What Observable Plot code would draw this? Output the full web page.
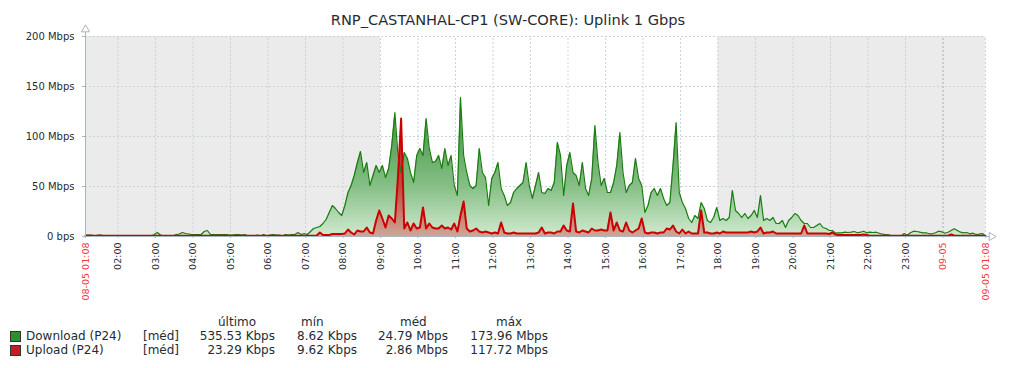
<!DOCTYPE html>
<html><head><meta charset="utf-8">
<script src="https://cdn.jsdelivr.net/npm/d3@7"></script>
<script src="https://cdn.jsdelivr.net/npm/@observablehq/plot@0.6"></script>
<style>
body{margin:0;background:#fff;font-family:"DejaVu Sans",sans-serif;color:#1f2c33;}
#wrap{position:relative;width:1016px;height:368px;overflow:hidden;}
#chart{position:absolute;left:0;top:0;}
#title{position:absolute;left:0;width:1016px;top:10.5px;text-align:center;font-size:14.6px;line-height:17px;white-space:nowrap;}
.lg{position:absolute;font-size:12px;line-height:14px;white-space:nowrap;}
.sw{position:absolute;width:9px;height:9px;border:1px solid #333;}
</style></head>
<body><div id="wrap">
<div id="chart"></div>
<div id="title"></div>
<div id="legend"></div>
</div>
<script>
// ---- data (Mbps), 5-minute samples from 08-05 01:08 to 09-05 01:08 ----
const title = "RNP_CASTANHAL-CP1 (SW-CORE): Uplink 1 Gbps";
const startTime = Date.UTC(2023, 4, 8, 1, 8);
const stepMinutes = 5;
const downloadMbps = [
1.5,1.5,1.5,0.5,1.5,1.5,0.5,0.5,0.5,0.5,0.5,0.5,
0.5,0.5,0.5,0.5,0.5,0.5,0.5,0.5,0.5,0.5,2,4,
1.5,0.5,0.5,0.5,0.5,2,2.5,4,3,2.5,2,2,
2,2,5,6,2,2,2,2,2,2,1.5,1.5,
2,2,1.5,2,0.5,0.5,0.5,1.5,0.5,2,0.5,1.5,
2,1.5,1.5,0.5,2,1.5,2,2,4,2,
3,2,5,8,9,10,13,17,
24,31,28,24,21,31,44,51,61,74,85,64,
74,51,61,71,64,71,59,68,91,124,81,64,
84,78,64,54,81,88,81,118,88,74,75,
81,68,88,71,81,51,41,139,81,64,51,48,
51,88,64,59,31,58,64,74,48,41,31,34,
44,48,51,54,74,51,38,51,64,44,43,48,
46,54,94,81,41,71,84,64,61,51,74,48,
41,58,111,74,51,58,44,44,54,71,104,64,
44,51,54,78,58,51,24,31,44,48,41,48,
38,31,34,71,114,44,34,28,18,14,21,18,
34,28,16,14,19,29,16,18,16,19,46,26,
23,19,23,18,21,26,19,41,16,18,16,19,
13,13,16,9,16,19,23,21,16,13,13,9,
9,11,13,9,8,6,6,3.3,3.7,3.7,4.3,4,
4.3,5,3.7,4.3,5.3,3.7,4.3,4,4.3,3.3,2.3,2,
1.7,0.7,0.5,0.5,0.5,3,1.3,3.7,5.3,5,4.3,3.7,
3.7,2.7,2.7,3.7,5.3,4.7,3.3,4.3,6,7.7,6,4.3,
3.7,4,2.7,3.3,2,2.3,3,0.5
];
const uploadMbps = [
0.8,0.8,0.8,0.8,0.8,0.8,0.8,0.8,0.8,0.8,0.8,0.8,
0.8,0.8,0.8,0.8,0.8,0.8,0.8,0.8,0.8,0.8,0.8,0.8,
0.8,0.8,0.8,0.8,0.8,0.8,0.8,0.8,0.8,0.8,0.8,0.8,
0.8,0.8,0.8,0.8,0.8,0.8,0.8,0.8,0.8,0.8,0.8,0.8,
0.8,0.8,0.8,0.8,0.8,0.8,0.8,0.8,0.8,0.8,0.8,0.8,
0.8,0.8,0.8,0.8,0.8,0.8,0.8,0.8,0.8,0.8,
0.8,0.8,0.8,0.8,1,4,1.5,1.5,
1.5,2.5,2.5,2.5,2.5,3,7,4,2,6,5,5,
9,4,3,16,26,18,9,21,18,14,60,118,
8,14,6,13,8,9,29,8,13,9,8,
8,11,8,9,7,13,5,21,35,8,5,6,
8,5,4,5,4,3,4,3,14,4,3,3,
4,3,3,3,3,3,3,3,4,9,3,4,
4,3,5,5,11,6,5,33,5,4,6,5,
4,8,6,6,7,6,6,24,6,14,6,5,
14,6,4,6,8,18,4,3,4,4,3,4,
4,8,7,11,5,3,7,3,5,3,3,3,
26,4,4,3,3,4,3,5,4,4,4,4,
4,4,4,4,5,4,5,9,3,4,4,5,
3,3,3,3,3,3,3,3,3,11,3,3,
3,3,3,3,3,2.5,4,2,1.5,1.5,1.5,1.5,
1.5,1.5,1.5,1.5,2,1.5,0.8,0.8,0.8,0.8,0.8,0.8,
0.8,0.8,0.8,0.8,0.8,0.8,0.8,0.8,0.8,0.8,0.8,0.8,
0.8,0.8,0.8,0.8,0.8,0.8,0.8,0.8,2,1,0.8,0.8,
0.8,0.8,0.8,0.8,0.8,0.8,0.8,0.5
];
const yTicks = [0, 50, 100, 150, 200];
const yTickLabels = ["0 bps", "50 Mbps", "100 Mbps", "150 Mbps", "200 Mbps"];
const hourLabels = ["02:00","03:00","04:00","05:00","06:00","07:00","08:00","09:00","10:00","11:00","12:00","13:00","14:00","15:00","16:00","17:00","18:00","19:00","20:00","21:00","22:00","23:00"];
const edgeLabels = ["08-05 01:08", "09-05", "09-05 01:08"];
const seriesNames = ["Download (P24)", "Upload (P24)"];
const legendHeaders = ["último", "mín", "méd", "máx"];
const legendFunc = "[méd]";
const downloadStats = ["535.53 Kbps", "8.62 Kbps", "24.79 Mbps", "173.96 Mbps"];
const uploadStats = ["23.29 Kbps", "9.62 Kbps", "2.86 Mbps", "117.72 Mbps"];
const workStart = "09:00", workEnd = "18:00";

// ---- build ----
const t0 = new Date(startTime);
const t1 = new Date(startTime + 24 * 3600e3);
const rows = downloadMbps.map((d, i) => ({t: new Date(startTime + i * stepMinutes * 60e3), down: d, up: uploadMbps[i]}));
const atHour = (label, day) => { const [h, m] = label.split(":").map(Number); return new Date(Date.UTC(2023, 4, day, h, m)); };
const hourTicks = hourLabels.map(l => atHour(l, 8));
const midnight = new Date(Date.UTC(2023, 4, 9, 0, 0));
const edgeTicks = [t0, midnight, t1];
const bands = [{a: t0, b: atHour(workStart, 8)}, {a: atHour(workEnd, 8), b: t1}];
const gridCol = "#c9d3d9", axisCol = "#a9b5bd", red = "#f03a3a";

const chart = Plot.plot({
  width: 1016, height: 310,
  marginLeft: 85, marginRight: 31, marginTop: 36, marginBottom: 74,
  x: {type: "utc", domain: [t0, t1]},
  y: {domain: [0, 200]},
  style: {fontFamily: "DejaVu Sans", fontSize: "10px", color: "#1f2c33", background: "transparent"},
  marks: [
    Plot.rect(bands, {x1: "a", x2: "b", y1: 0, y2: 200, fill: "#ebebeb"}),
    Plot.ruleY(yTicks.filter(v => v > 0), {x1: t0, x2: t1, stroke: gridCol, strokeDasharray: "2,2"}),
    Plot.ruleX(hourTicks, {y1: 0, y2: 200, stroke: gridCol, strokeDasharray: "2,2"}),
    Plot.ruleX([midnight], {y1: 0, y2: 200, stroke: "#9fb0bc", strokeDasharray: "2,2"}),
    Plot.ruleX([t1], {y1: 0, y2: 200, stroke: gridCol, strokeDasharray: "2,2"}),
    Plot.areaY(rows, {x: "t", y: "down", fill: "url(#gGreen)"}),
    Plot.areaY(rows, {x: "t", y: "up", fill: "url(#gRed)"}),
    Plot.lineY(rows, {x: "t", y: "down", stroke: "#1a7c11", strokeWidth: 1.2}),
    Plot.lineY(rows, {x: "t", y: "up", stroke: "#cc0000", strokeWidth: 2}),
    Plot.ruleX([t0], {y1: 0, y2: 207, stroke: axisCol}),
    Plot.ruleY([0], {x1: t0, x2: new Date(startTime + 24.12 * 3600e3), stroke: axisCol}),
    Plot.dot([t0], {x: d => d, y: 200, dy: -7, symbol: "triangle", r: 3, stroke: axisCol, fill: "white", strokeWidth: 1}),
    Plot.dot([t1], {x: d => d, y: 0, dx: 6, symbol: "triangle", rotate: 90, r: 3, stroke: axisCol, fill: "white", strokeWidth: 1}),
    Plot.axisY(yTicks, {tickFormat: (d, i) => yTickLabels[i], tickSize: 3, tickPadding: 8, stroke: axisCol, fontSize: 10, label: null}),
    Plot.axisX(hourTicks, {tickFormat: (d, i) => hourLabels[i], tickRotate: -90, tickSize: 2, tickPadding: 4, stroke: axisCol, fontSize: 9.5, label: null}),
    Plot.axisX(edgeTicks, {tickFormat: (d, i) => edgeLabels[i], tickRotate: -90, tickSize: 2, tickPadding: 4, stroke: axisCol, fill: red, fontSize: 9.5, label: null})
  ]
});
const defs = document.createElementNS("http://www.w3.org/2000/svg", "defs");
defs.innerHTML = `
<linearGradient id="gGreen" gradientUnits="userSpaceOnUse" x1="0" y1="36" x2="0" y2="236">
 <stop offset="0" stop-color="#2a7d2a"/><stop offset="0.45" stop-color="#4e9a4e"/>
 <stop offset="0.75" stop-color="#86bf86"/><stop offset="1" stop-color="#d0eacf"/>
</linearGradient>
<linearGradient id="gRed" gradientUnits="userSpaceOnUse" x1="0" y1="36" x2="0" y2="236">
 <stop offset="0" stop-color="#a00000"/><stop offset="0.75" stop-color="#c04a40"/>
 <stop offset="1" stop-color="#cda696"/>
</linearGradient>`;
chart.insertBefore(defs, chart.firstChild);
document.getElementById("chart").appendChild(chart);
document.getElementById("title").textContent = title;

// ---- legend ----
const lg = document.getElementById("legend");
const add = (cls, txt, css) => { const e = document.createElement("div"); e.className = cls; if (txt) e.textContent = txt; Object.assign(e.style, css); lg.appendChild(e); };
const headerLeft = [218, 301, 400, 496];
const valueRight = [275, 357, 448, 548];
legendHeaders.forEach((h, i) => add("lg", h, {left: headerLeft[i] + "px", top: "315px"}));
[[downloadStats, "#2f8f2f", 329], [uploadStats, "#c41e1e", 343]].forEach(([stats, col, top], r) => {
  add("sw", "", {left: "10px", top: (top + 2) + "px", background: col});
  add("lg", seriesNames[r], {left: "26px", top: top + "px"});
  add("lg", legendFunc, {left: "143px", top: top + "px"});
  stats.forEach((s, i) => add("lg", s, {right: (1016 - valueRight[i]) + "px", top: top + "px"}));
});
</script>
</body></html>
